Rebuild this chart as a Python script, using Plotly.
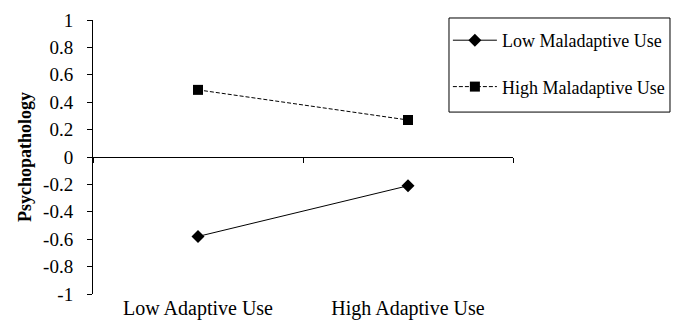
import plotly.graph_objects as go

categories = ["Low Adaptive Use", "High Adaptive Use"]
low_maladaptive = [-0.58, -0.21]
high_maladaptive = [0.49, 0.27]
y_ticks = [1, 0.8, 0.6, 0.4, 0.2, 0, -0.2, -0.4, -0.6, -0.8, -1]

xpos = [i + 0.5 for i in range(len(categories))]
FONT = "Liberation Serif, Times New Roman, serif"

fig = go.Figure()
fig.add_trace(go.Scatter(
    x=xpos, y=low_maladaptive, name="Low Maladaptive Use", mode="lines+markers",
    line=dict(color="black", width=1), marker=dict(symbol="diamond", size=10, color="black"),
    legendgroup="a"))
fig.add_trace(go.Scatter(
    x=xpos, y=high_maladaptive, name="High Maladaptive Use", mode="lines+markers",
    line=dict(color="black", width=1, dash="4px,2px"),
    marker=dict(symbol="square", size=10, color="black"), legendgroup="b"))
# invisible trace to create the zero-line axis
fig.add_trace(go.Scatter(x=[None], y=[None], xaxis="x2", showlegend=False, hoverinfo="skip"))

# legend frame (drawn as a paper-referenced rectangle)
fig.add_shape(type="rect", xref="paper", yref="paper",
              x0=0.8476, x1=1.3738, y0=0.664, y1=1.0073,
              line=dict(color="black", width=1), fillcolor="rgba(0,0,0,0)", layer="above")

fig.update_layout(
    width=675, height=327,
    margin=dict(l=93, r=162, t=20, b=33, autoexpand=False),
    paper_bgcolor="white", plot_bgcolor="white",
    font=dict(family=FONT, size=18, color="black"),
    showlegend=True,
    legend=dict(x=0.845, xanchor="left", y=0.9927, yanchor="top",
                borderwidth=0, bgcolor="rgba(0,0,0,0)", itemwidth=44,
                font=dict(size=18), tracegroupgap=20),
    xaxis=dict(range=[0, len(categories)], tickvals=xpos, ticktext=categories,
               showline=False, showgrid=False, zeroline=False, ticks="",
               tickfont=dict(size=20), automargin=False),
    xaxis2=dict(range=[0, len(categories)], overlaying="x", anchor="free", position=0.5,
                tickvals=list(range(len(categories) + 1)), ticks="outside", ticklen=5,
                tickcolor="black", showticklabels=False, showline=True, linecolor="black",
                linewidth=1, showgrid=False, zeroline=False, automargin=False),
    yaxis=dict(range=[-1, 1], tickvals=y_ticks, ticktext=[f"{v:g}" for v in y_ticks],
               showline=True, linecolor="black", linewidth=1, ticks="outside",
               ticklen=5, tickcolor="black", showgrid=False, zeroline=False,
               ticklabelstandoff=10, automargin=False,
               title=dict(text="<b>Psychopathology</b>", standoff=6, font=dict(size=18)),
               tickfont=dict(size=19)),
)

fig.write_html("out.html", config={"displayModeBar": False},
               post_script="document.body.style.margin='0';document.body.style.overflow='hidden';")
